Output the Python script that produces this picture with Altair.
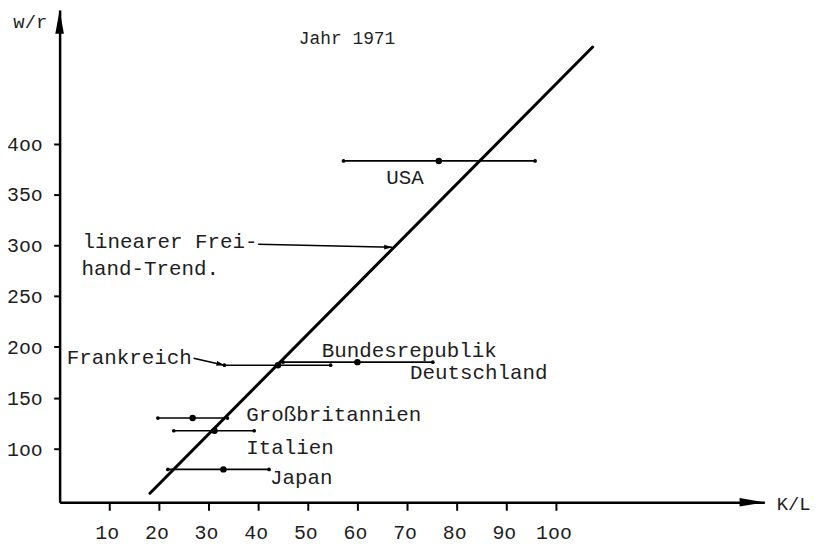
import altair as alt
import pandas as pd

# ---------------- data ----------------
countries = ["USA", "Bundesrepublik Deutschland", "Frankreich", "Großbritannien", "Italien", "Japan"]
kl_mid = [76.4, 60.0, 44.0, 26.8, 31.2, 33.0]
kl_low = [57.2, 45.0, 33.2, 19.8, 23.0, 21.8]
kl_high = [95.8, 75.2, 54.6, 33.8, 39.2, 42.2]
wr = [383.0, 185.0, 182.0, 130.0, 117.5, 79.5]

trend_kl = [18.2, 107.4]
trend_wr = [56.0, 495.0]

# annotation arrows (data coordinates)
trend_arrow_kl = [40.0, 67.0]
trend_arrow_wr = [301.0, 298.0]
fr_arrow_kl = [27.0, 33.2]
fr_arrow_wr = [188.8, 182.0]

x_ticks = [10, 20, 30, 40, 50, 60, 70, 80, 90, 100]
x_tick_labels = ["1o", "2o", "3o", "4o", "5o", "6o", "7o", "8o", "9o", "1oo"]
y_ticks = [100, 150, 200, 250, 300, 350, 400]
y_tick_labels = ["1oo", "15o", "2oo", "25o", "3oo", "35o", "4oo"]

X_DOMAIN = [0, 142]
Y_DOMAIN = [47.1, 531.5]

title_text = "Jahr 1971"
x_title = "K/L"
y_title = "w/r"

# ---------------- styling ----------------
FONT = "Liberation Mono"
INK = "#1e1e1e"
W, H = 710, 496

df = pd.DataFrame({"country": countries, "kl_mid": kl_mid, "kl_low": kl_low,
                   "kl_high": kl_high, "wr": wr})
trend_df = pd.DataFrame({"kl": trend_kl, "wr": trend_wr})
tarrow_df = pd.DataFrame({"kl": trend_arrow_kl, "wr": trend_arrow_wr})
farrow_df = pd.DataFrame({"kl": fr_arrow_kl, "wr": fr_arrow_wr})
xlab_df = pd.DataFrame({"kl": x_ticks, "label": x_tick_labels, "wr": [Y_DOMAIN[0]] * len(x_ticks)})
ylab_df = pd.DataFrame({"wr": y_ticks, "label": y_tick_labels, "kl": [X_DOMAIN[0]] * len(y_ticks)})

xscale = alt.Scale(domain=X_DOMAIN, nice=False, zero=False)
yscale = alt.Scale(domain=Y_DOMAIN, nice=False, zero=False)

x_axis = alt.Axis(values=x_ticks, labels=False,
                  grid=False, domain=True, domainColor="black", domainWidth=2.5,
                  ticks=True, tickColor="black", tickWidth=2, tickSize=8,
                  title=x_title, titleFont=FONT, titleFontSize=19, titleFontWeight="normal",
                  titleColor=INK, titleAngle=0, titleX=739, titleY=1,
                  titleAlign="center", titleBaseline="middle")
y_axis = alt.Axis(values=y_ticks, labels=False,
                  grid=False, domain=True, domainColor="black", domainWidth=2.5,
                  ticks=True, tickColor="black", tickWidth=2, tickSize=6,
                  title=y_title, titleFont=FONT, titleFontSize=19, titleFontWeight="normal",
                  titleColor=INK, titleAngle=0, titleX=-30, titleY=18,
                  titleAlign="center", titleBaseline="alphabetic")


def X(field):
    return alt.X(field, type="quantitative", scale=xscale, axis=x_axis)


def Y(field):
    return alt.Y(field, type="quantitative", scale=yscale, axis=y_axis)


# trend line
trend = alt.Chart(trend_df).mark_line(color="black", strokeWidth=3, strokeCap="round").encode(
    x=X("kl"), y=Y("wr"))

# error bars
bars = alt.Chart(df).mark_rule(color="black", strokeWidth=1.6).encode(
    x=X("kl_low"), x2="kl_high", y=Y("wr"))
ends_lo = alt.Chart(df).mark_point(filled=True, color="black", size=14, opacity=1).encode(
    x=X("kl_low"), y=Y("wr"))
ends_hi = alt.Chart(df).mark_point(filled=True, color="black", size=14, opacity=1).encode(
    x=X("kl_high"), y=Y("wr"))
centers = alt.Chart(df).mark_point(filled=True, color="black", size=42, opacity=1).encode(
    x=X("kl_mid"), y=Y("wr"))

# axis arrow heads
ax_end = pd.DataFrame({"kl": [X_DOMAIN[1]], "wr": [Y_DOMAIN[0]]})
ay_end = pd.DataFrame({"kl": [X_DOMAIN[0]], "wr": [Y_DOMAIN[1]]})
x_head = alt.Chart(ax_end).mark_point(shape="M0,0L-2,-0.34L-2,0.34Z", filled=True, color="black",
                                      size=625, opacity=1).encode(x=X("kl"), y=Y("wr"))
y_head = alt.Chart(ay_end).mark_point(shape="M0,0L0.36,2L-0.36,2Z", filled=True, color="black",
                                      size=576, opacity=1).encode(x=X("kl"), y=Y("wr"))

# tick labels (typewriter style, "o" for zero)
x_labels = alt.Chart(xlab_df).mark_text(align="center", baseline="alphabetic", dx=-2, dy=37,
                                        font=FONT, fontSize=20, color=INK).encode(
    x=X("kl"), y=Y("wr"), text="label:N")
y_labels = alt.Chart(ylab_df).mark_text(align="right", baseline="alphabetic", dx=-17, dy=7,
                                        font=FONT, fontSize=20, color=INK).encode(
    x=X("kl"), y=Y("wr"), text="label:N")

# annotation arrows
t_line = alt.Chart(tarrow_df).mark_line(color="black", strokeWidth=1.5).encode(x=X("kl"), y=Y("wr"))
t_head = alt.Chart(tarrow_df.iloc[[1]]).mark_point(shape="M0,0L-2,-0.6L-2,0.6Z", filled=True,
                                                   color="black", size=64, angle=1, opacity=1).encode(
    x=X("kl"), y=Y("wr"))
f_line = alt.Chart(farrow_df).mark_line(color="black", strokeWidth=1.5).encode(x=X("kl"), y=Y("wr"))
f_head = alt.Chart(farrow_df.iloc[[1]]).mark_point(shape="M0,0L-2,-0.6L-2,0.6Z", filled=True,
                                                   color="black", size=64, angle=13, opacity=1).encode(
    x=X("kl"), y=Y("wr"))


def text_at(data, xf, yf, text, dx, dy, align="left", size=21):
    return alt.Chart(data).mark_text(text=text, align=align, baseline="alphabetic", dx=dx, dy=dy,
                                     font=FONT, fontSize=size, color=INK).encode(x=X(xf), y=Y(yf))


labels = [
    text_at(df.iloc[[0]], "kl_mid", "wr", "USA", -53, 23),
    text_at(df.iloc[[1]], "kl_mid", "wr", "Bundesrepublik", -36, -5),
    text_at(df.iloc[[1]], "kl_mid", "wr", "Deutschland", 53, 17),
    text_at(farrow_df.iloc[[0]], "kl", "wr", "Frankreich", -2, 6, align="right"),
    text_at(df.iloc[[3]], "kl_mid", "wr", "Großbritannien", 54, 3),
    text_at(df.iloc[[4]], "kl_mid", "wr", "Italien", 32, 23),
    text_at(df.iloc[[5]], "kl_mid", "wr", "Japan", 47, 15),
    text_at(tarrow_df.iloc[[0]], "kl", "wr", "linearer Frei-", -177, 4),
    text_at(tarrow_df.iloc[[0]], "kl", "wr", "hand-Trend.", -178, 31),
]

title = alt.Chart(pd.DataFrame({"t": [title_text]})).mark_text(
    align="left", baseline="alphabetic", font=FONT, fontSize=18, color=INK).encode(
    text="t:N", x=alt.value(241), y=alt.value(34))

chart = alt.layer(trend, bars, ends_lo, ends_hi, centers, x_head, y_head, x_labels, y_labels,
                  t_line, t_head, f_line, f_head, *labels, title).properties(
    width=W, height=H,
    autosize=alt.AutoSizeParams(type="none"),
    padding={"left": 52, "top": 0, "right": 52, "bottom": 40},
    background="white",
).configure_view(stroke=None)

chart.save("out.html", embed_options={"renderer": "svg", "actions": False})
